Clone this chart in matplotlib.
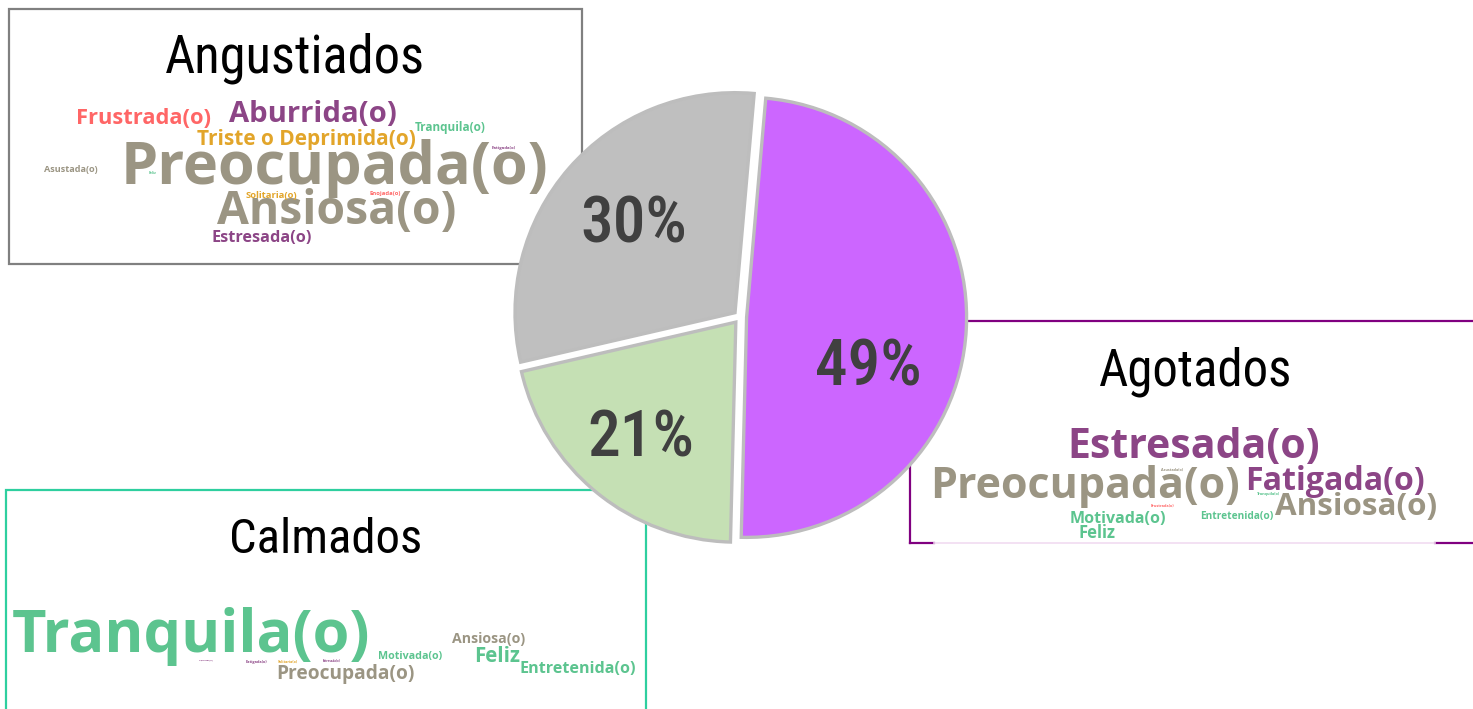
import matplotlib
matplotlib.use("Agg")
import matplotlib.pyplot as plt
from matplotlib.patches import Rectangle
from matplotlib.lines import Line2D
import numpy as np

W, H = 1473, 709

# ---------------- data ----------------
groups = ["Agotados", "Calmados", "Angustiados"]
shares = [49, 21, 30]
slice_colors = ["#cc66ff", "#c5e0b4", "#bfbfbf"]

angus_words = ["Preocupada(o)", "Ansiosa(o)", "Aburrida(o)", "Frustrada(o)",
               "Triste o Deprimida(o)", "Estresada(o)", "Tranquila(o)",
               "Asustada(o)", "Solitaria(o)", "Enojada(o)", "Fatigada(o)", "Feliz"]
agot_words = ["Estresada(o)", "Preocupada(o)", "Fatigada(o)", "Ansiosa(o)",
              "Motivada(o)", "Entretenida(o)", "Feliz", "Asustada(o)",
              "Tranquila(o)", "Frustrada(o)"]
calm_words = ["Tranquila(o)", "Preocupada(o)", "Ansiosa(o)", "Motivada(o)",
              "Feliz", "Entretenida(o)", "Fatigada(o)", "Solitaria(o)",
              "Estresada(o)", "Aburrida(o)"]

# ---------------- styles / layout ----------------
C_GRAY = "#9b9583"
C_PURP = "#8c4586"
C_RED = "#ff6666"
C_GOLD = "#e2a52a"
C_GREEN = "#5cc48f"
word_color = {"Preocupada(o)": C_GRAY, "Ansiosa(o)": C_GRAY, "Asustada(o)": C_GRAY,
              "Aburrida(o)": C_PURP, "Estresada(o)": C_PURP, "Fatigada(o)": C_PURP,
              "Frustrada(o)": C_RED, "Enojada(o)": C_RED,
              "Triste o Deprimida(o)": C_GOLD, "Solitaria(o)": C_GOLD,
              "Tranquila(o)": C_GREEN, "Feliz": C_GREEN, "Motivada(o)": C_GREEN,
              "Entretenida(o)": C_GREEN}

# (center x, center y, width) in pixels for each word
angus_layout = [(334, 168, 428), (337, 212, 239), (313, 115, 167), (144, 119, 135),
                (306, 140, 219), (262, 238, 100), (450, 128, 71), (71, 170, 54),
                (271, 196, 52), (385, 194, 31), (504, 148, 24), (153, 173, 8)]
agot_layout = [(1194, 448, 252), (1085, 486, 310), (1335, 481, 180), (1356, 507, 162),
               (1118, 519, 96), (1237, 516, 73), (1097, 533, 37), (1172, 470, 22),
               (1268, 494, 24), (1162, 506, 24)]
calm_layout = [(191, 637, 358), (345, 674, 138), (489, 639, 73), (410, 656, 64),
               (497, 657, 46), (578, 669, 116), (256, 662, 22), (288, 662, 20),
               (332, 661, 18), (206, 660, 14)]

COND = ["Roboto Condensed", "Liberation Sans Narrow", "DejaVu Sans Condensed", "DejaVu Sans"]

fig = plt.figure(figsize=(W / 100, H / 100), dpi=100)
fig.patch.set_facecolor("white")
renderer = fig.canvas.get_renderer()


def fx(x):
    return x / W


def fy(y):
    return 1 - y / H


def fit_text(s, cx, cy, width, **kw):
    t = fig.text(fx(cx), fy(cy), s, fontsize=20, ha="center", va="center", **kw)
    bb = t.get_window_extent(renderer)
    t.set_fontsize(20 * width / bb.width)
    return t


# ---------------- boxes ----------------
def box(x0, y0, x1, y1, color, lw=1.6):
    r = Rectangle((fx(x0), fy(y1)), fx(x1) - fx(x0), fy(y0) - fy(y1),
                  transform=fig.transFigure, fill=False, edgecolor=color,
                  linewidth=lw, zorder=-2)
    fig.add_artist(r)


box(9, 9, 582, 264, "#808080")
box(6, 490, 646, 760, "#2ecf9f")
# Agotados box: top, left, right beyond canvas, bottom partially covered
for (xa, ya, xb, yb) in [(910, 321, 1480, 321), (910, 321, 910, 543),
                         (910, 543, 934, 543), (1435, 543, 1480, 543)]:
    fig.add_artist(Line2D([fx(xa), fx(xb)], [fy(ya), fy(yb)], transform=fig.transFigure,
                          color="#800080", linewidth=1.6, zorder=-2))
fig.add_artist(Line2D([fx(934), fx(1435)], [fy(543), fy(543)], transform=fig.transFigure,
                      color="#f1dcf1", linewidth=1.2, zorder=-2))

# ---------------- titles ----------------
fit_text("Angustiados", 295, 58, 260, family=COND, color="black", zorder=-1)
fit_text("Agotados", 1196, 372, 193, family=COND, color="black", zorder=-1)
fit_text("Calmados", 326, 540, 193, family=COND, color="black", zorder=-1)

# ---------------- word clouds ----------------
for words, layout in [(angus_words, angus_layout), (agot_words, agot_layout),
                      (calm_words, calm_layout)]:
    for w, (cx, cy, wd) in zip(words, layout):
        fit_text(w, cx, cy, wd, family=["Open Sans", "DejaVu Sans"], fontweight="bold",
                 color=word_color[w], zorder=-1)

# ---------------- pie ----------------
CX, CY, R = 740, 317, 220
ax = fig.add_axes([fx(CX - R), fy(CY + R), 2 * R / W, 2 * R / H])
explode = [0.03, 0.03, 0.03]
wedges, _ = ax.pie(shares, colors=slice_colors, startangle=85, counterclock=False,
                   explode=explode, radius=1,
                   wedgeprops=dict(edgecolor="#bdbdbd", linewidth=2.4))
ax.set_xlim(-1, 1)
ax.set_ylim(-1, 1)
ax.set_aspect("equal")
ax.axis("off")
for w in wedges:
    w.set_clip_on(False)

label_shift = [-19, 0, 0]
label_dist = [0.60, 0.68, 0.61]
for w, s, e, sh, d in zip(wedges, shares, explode, label_shift, label_dist):
    mid = np.deg2rad((w.theta1 + w.theta2) / 2)
    lab = mid + np.deg2rad(sh)
    x = e * np.cos(mid) + d * np.cos(lab)
    y = e * np.sin(mid) + d * np.sin(lab)
    ax.text(x, y, f"{s}%", ha="center", va="center", color="#404040",
            family=COND, fontweight="medium", fontsize=47)

fig.savefig("out.png", dpi=100, facecolor="white")
